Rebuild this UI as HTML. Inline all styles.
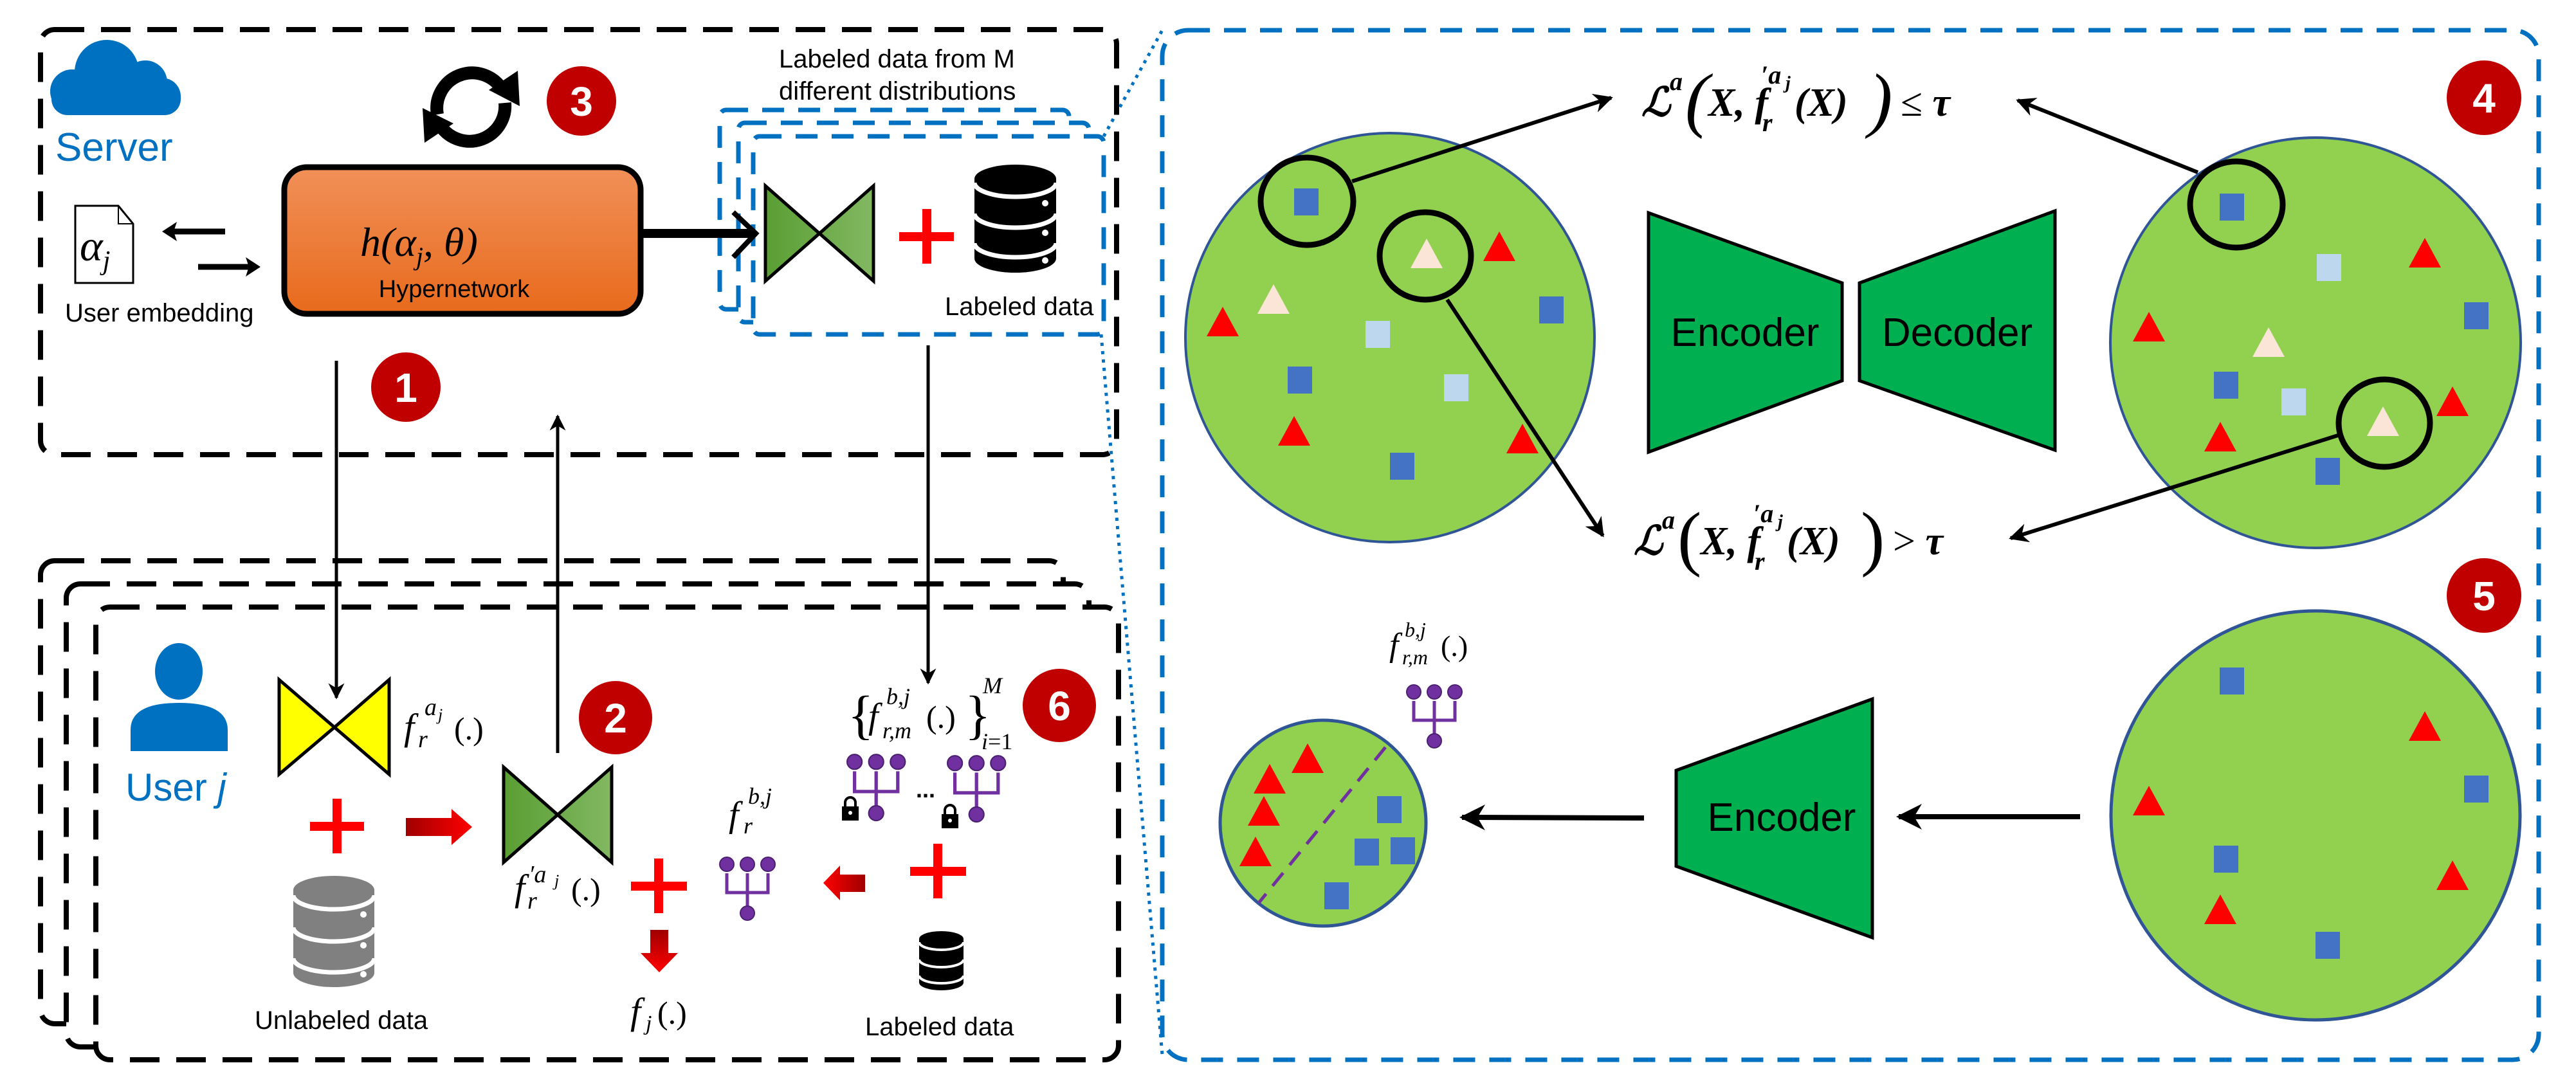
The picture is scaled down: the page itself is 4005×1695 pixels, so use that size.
<!DOCTYPE html>
<html><head><meta charset="utf-8"><style>
html,body{margin:0;padding:0;background:#fff}
svg{display:block}
text{font-family:"Liberation Sans",sans-serif}
.m{font-family:"Liberation Serif",serif;font-style:italic}
.mu{font-family:"Liberation Serif",serif}
.mb{font-family:"Liberation Serif",serif;font-style:italic;font-weight:bold}
.num{font-family:"Liberation Sans",sans-serif;font-weight:bold;fill:#fff;font-size:64px;text-anchor:middle}
</style></head><body>
<svg width="4005" height="1695" viewBox="0 0 4005 1695" xmlns="http://www.w3.org/2000/svg">
<defs>
<linearGradient id="og" x1="0" y1="0" x2="0" y2="1"><stop offset="0" stop-color="#f19058"/><stop offset="1" stop-color="#e86a1c"/></linearGradient>
<linearGradient id="gl" x1="0" y1="0" x2="1" y2="0"><stop offset="0" stop-color="#5a9e33"/><stop offset="1" stop-color="#82b862"/></linearGradient>
<linearGradient id="rh" x1="0" y1="0" x2="1" y2="0"><stop offset="0" stop-color="#a00000"/><stop offset="1" stop-color="#ff0000"/></linearGradient>
<linearGradient id="rhl" x1="1" y1="0" x2="0" y2="0"><stop offset="0" stop-color="#a00000"/><stop offset="1" stop-color="#ff0000"/></linearGradient>
<linearGradient id="rv" x1="0" y1="0" x2="0" y2="1"><stop offset="0" stop-color="#a00000"/><stop offset="1" stop-color="#ff0000"/></linearGradient>
<marker id="ah" viewBox="0 0 10 10" refX="9" refY="5" markerWidth="5" markerHeight="5" orient="auto-start-reverse"><path d="M0,0 L10,5 L0,10 L3,5 Z" fill="#000"/></marker>
<g id="net"><circle cx="12" cy="14" r="11" fill="#7030a0" stroke="#4b2070" stroke-width="2"/><circle cx="44" cy="14" r="11" fill="#7030a0" stroke="#4b2070" stroke-width="2"/><circle cx="76" cy="14" r="11" fill="#7030a0" stroke="#4b2070" stroke-width="2"/><path d="M12,28 V58 H76 V28 M44,28 V80" fill="none" stroke="#7030a0" stroke-width="5"/><circle cx="44" cy="90" r="11" fill="#7030a0" stroke="#4b2070" stroke-width="2"/></g>
<g id="lock"><path d="M5,14 V8 A8,8 0 0 1 21,8 V14" fill="none" stroke="#000" stroke-width="4"/><rect x="0" y="14" width="26" height="22" fill="#000"/><circle cx="13" cy="24" r="3" fill="#fff"/></g>
</defs>

<!-- dotted connectors -->
<path d="M1716,212 L1807,47" stroke="#0070c0" stroke-width="5" stroke-dasharray="5 8" fill="none"/>
<path d="M1712,520 L1807,1640" stroke="#0070c0" stroke-width="5" stroke-dasharray="5 8" fill="none"/>

<!-- server box -->
<rect x="63" y="46" width="1673" height="661" rx="22" fill="none" stroke="#000" stroke-width="8" stroke-dasharray="46 26"/>
<!-- user boxes -->
<rect x="63" y="872" width="1590" height="720" rx="22" fill="none" stroke="#000" stroke-width="8" stroke-dasharray="46 26"/>
<rect x="103" y="908" width="1590" height="720" rx="22" fill="#fff" stroke="#000" stroke-width="8" stroke-dasharray="46 26"/>
<rect x="149" y="944" width="1590" height="704" rx="22" fill="#fff" stroke="#000" stroke-width="8" stroke-dasharray="46 26"/>

<!-- cloud -->
<g fill="#0070c0"><rect x="80" y="128" width="201" height="51" rx="25"/><circle cx="166" cy="112" r="50"/><circle cx="226" cy="128" r="34"/><circle cx="112" cy="142" r="34"/><circle cx="252" cy="150" r="29"/></g>
<text x="86" y="250" font-size="62" fill="#0070c0">Server</text>

<!-- refresh icon -->
<g fill="none" stroke="#000" stroke-width="20">
<path d="M680,178 A55,55 0 0 1 780,138"/>
<path d="M785,160 A55,55 0 0 1 685,196"/>
</g>
<path d="M760,140 L805,110 L808,165 Z" fill="#000"/>
<path d="M705,192 L660,222 L657,168 Z" fill="#000"/>
<circle cx="904" cy="157" r="54" fill="#c00000"/><text class="num" x="904" y="180">3</text>

<text x="1211" y="105" font-size="40">Labeled data from M</text>
<text x="1211" y="155" font-size="40">different distributions</text>

<!-- blue dashed boxes -->
<rect x="1119" y="171" width="543" height="310" rx="10" fill="none" stroke="#0070c0" stroke-width="7" stroke-dasharray="34 22"/>
<rect x="1148" y="191" width="545" height="310" rx="10" fill="#fff" stroke="#0070c0" stroke-width="7" stroke-dasharray="34 22"/>
<rect x="1171" y="212" width="545" height="308" rx="10" fill="#fff" stroke="#0070c0" stroke-width="7" stroke-dasharray="34 22"/>

<!-- hypernetwork -->
<rect x="442" y="260" width="554" height="228" rx="35" fill="url(#og)" stroke="#000" stroke-width="9"/>
<text x="560" y="398" font-size="64" class="m">h(α<tspan font-size="40" dy="14">j</tspan><tspan dy="-14">, θ)</tspan></text>
<text x="706" y="462" font-size="38" text-anchor="middle">Hypernetwork</text>

<!-- doc -->
<path d="M117,320 L184,320 L207,348 L207,440 L117,440 Z" fill="#fff" stroke="#000" stroke-width="3"/>
<path d="M184,320 L184,348 L207,348" fill="none" stroke="#000" stroke-width="2"/>
<text x="124" y="405" font-size="68" class="m">α<tspan font-size="42" dy="14">j</tspan></text>
<line x1="350" y1="360" x2="262" y2="360" stroke="#000" stroke-width="9"/><path d="M252,360 L275,345 L270,360 L275,375 Z" fill="#000"/>
<line x1="308" y1="415" x2="395" y2="415" stroke="#000" stroke-width="9"/><path d="M405,415 L382,400 L387,415 L382,430 Z" fill="#000"/>
<text x="101" y="500" font-size="40">User embedding</text>

<!-- thick arrow -->
<line x1="999" y1="363" x2="1170" y2="363" stroke="#000" stroke-width="14"/>
<path d="M1140,330 L1175,363 L1140,400" fill="none" stroke="#000" stroke-width="8"/>

<!-- green bowtie server -->
<path d="M1190,289 L1274,363 L1358,289 L1358,437 L1274,363 L1190,437 Z" fill="url(#gl)" stroke="#000" stroke-width="5"/>
<rect x="1434" y="325" width="14" height="85" fill="#f00"/><rect x="1398" y="361" width="85" height="14" fill="#f00"/>
<!-- db black -->
<g><path d="M1515,278 L1515,402 A63.5,22 0 0 0 1642,402 L1642,278 A63.5,22 0 0 0 1515,278 Z" fill="#000"/>
<path d="M1515,284 A63.5,22 0 0 0 1642,284 M1515,332 A63.5,22 0 0 0 1642,332 M1515,378 A63.5,22 0 0 0 1642,378" fill="none" stroke="#fff" stroke-width="7"/>
<circle cx="1625" cy="316" r="5" fill="#fff"/><circle cx="1625" cy="362" r="5" fill="#fff"/><circle cx="1625" cy="405" r="5" fill="#fff"/></g>
<text x="1469" y="490" font-size="40">Labeled data</text>

<!-- vertical connectors -->
<line x1="523" y1="561" x2="523" y2="1085" stroke="#000" stroke-width="5" marker-end="url(#ah)"/>
<circle cx="631" cy="602" r="54" fill="#c00000"/><text class="num" x="631" y="625">1</text>
<line x1="867" y1="1171" x2="867" y2="647" stroke="#000" stroke-width="5" marker-end="url(#ah)"/>
<line x1="1443" y1="537" x2="1443" y2="1062" stroke="#000" stroke-width="5" marker-end="url(#ah)"/>

<!-- user -->
<ellipse cx="278" cy="1044" rx="37" ry="44" fill="#0070c0"/>
<path d="M203,1168 L203,1135 Q203,1093 278,1093 Q354,1093 354,1135 L354,1168 Z" fill="#0070c0"/>
<text x="195" y="1245" font-size="60" fill="#0070c0">User <tspan font-style="italic">j</tspan></text>

<path d="M434,1057 L520,1131 L605,1057 L605,1204 L520,1131 L434,1204 Z" fill="#ffff00" stroke="#000" stroke-width="5"/>
<text x="628" y="1150" font-size="58" class="m">f</text><text x="650" y="1162" font-size="38" class="m">r</text><text x="660" y="1112" font-size="38" class="m">a</text><text x="681" y="1120" font-size="26" class="m">j</text><text x="706" y="1150" font-size="50" class="mu">(.)</text>

<rect x="517" y="1242" width="14" height="85" fill="#f00"/><rect x="482" y="1278" width="84" height="14" fill="#f00"/>
<path d="M631,1272 L702,1272 L702,1258 L734,1286 L702,1314 L702,1300 L631,1300 Z" fill="url(#rh)"/>

<!-- gray db -->
<g><path d="M456,1384 L456,1513 A63,22 0 0 0 582,1513 L582,1384 A63,22 0 0 0 456,1384 Z" fill="#808080"/>
<path d="M456,1392 A63,22 0 0 0 582,1392 M456,1442 A63,22 0 0 0 582,1442 M456,1490 A63,22 0 0 0 582,1490" fill="none" stroke="#fff" stroke-width="7"/>
<circle cx="565" cy="1422" r="5" fill="#fff"/><circle cx="565" cy="1470" r="5" fill="#fff"/><circle cx="565" cy="1515" r="5" fill="#fff"/></g>
<text x="396" y="1600" font-size="40">Unlabeled data</text>

<path d="M783,1193 L867,1267 L951,1193 L951,1341 L867,1267 L783,1341 Z" fill="url(#gl)" stroke="#000" stroke-width="5"/>
<circle cx="957" cy="1116" r="57" fill="#c00000"/><text class="num" x="957" y="1139">2</text>
<text x="800" y="1400" font-size="58" class="m">f</text><text x="822" y="1372" font-size="38" class="m">′a</text><text x="862" y="1378" font-size="26" class="m">j</text><text x="820" y="1413" font-size="38" class="m">r</text><text x="888" y="1400" font-size="50" class="mu">(.)</text>

<rect x="1017" y="1335" width="14" height="85" fill="#f00"/><rect x="981" y="1371" width="87" height="14" fill="#f00"/>
<path d="M1011,1446 L1039,1446 L1039,1482 L1054,1482 L1025,1512 L996,1482 L1011,1482 Z" fill="url(#rv)"/>
<text x="980" y="1592" font-size="58" class="m">f</text><text x="1004" y="1602" font-size="34" class="m">j</text><text x="1022" y="1592" font-size="50" class="mu">(.)</text>

<use href="#net" x="1118" y="1330"/>
<text x="1133" y="1285" font-size="56" class="m">f</text><text x="1156" y="1296" font-size="36" class="m">r</text><text x="1163" y="1250" font-size="36" class="m">b,j</text>
<path d="M1280,1373 L1306,1346 L1306,1360 L1345,1360 L1345,1387 L1306,1387 L1306,1400 Z" fill="url(#rhl)"/>
<rect x="1451" y="1312" width="14" height="85" fill="#f00"/><rect x="1415" y="1348" width="87" height="14" fill="#f00"/>
<!-- small black db -->
<g><path d="M1429,1460 L1429,1528 A34.5,12 0 0 0 1498,1528 L1498,1460 A34.5,12 0 0 0 1429,1460 Z" fill="#000"/>
<path d="M1429,1465 A34.5,12 0 0 0 1498,1465 M1429,1492 A34.5,12 0 0 0 1498,1492 M1429,1517 A34.5,12 0 0 0 1498,1517" fill="none" stroke="#fff" stroke-width="4"/></g>
<text x="1345" y="1610" font-size="40">Labeled data</text>

<!-- set formula -->
<text x="1318" y="1140" font-size="84" class="mu">{</text>
<text x="1350" y="1132" font-size="56" class="m">f</text><text x="1378" y="1095" font-size="36" class="m">b,j</text><text x="1372" y="1148" font-size="36" class="m">r,m</text>
<text x="1440" y="1132" font-size="50" class="mu">(.)</text>
<text x="1500" y="1140" font-size="84" class="mu">}</text>
<text x="1528" y="1078" font-size="36" class="m">M</text><text x="1526" y="1165" font-size="36" class="m">i<tspan class="mu" font-style="normal">=1</tspan></text>
<circle cx="1647" cy="1097" r="57" fill="#c00000"/><text class="num" x="1647" y="1120">6</text>
<use href="#net" transform="translate(1316,1170) scale(1.05)"/>
<use href="#net" transform="translate(1472,1172) scale(1.05)"/>
<text x="1424" y="1240" font-size="36" font-weight="bold">...</text>
<use href="#lock" x="1309" y="1240"/><use href="#lock" x="1464" y="1252"/>

<!-- right panel -->
<rect x="1807" y="47" width="2140" height="1601" rx="40" fill="none" stroke="#0070c0" stroke-width="7" stroke-dasharray="34 22"/>

<!-- panel 4 -->
<circle cx="2161" cy="525" r="318" fill="#92d050" stroke="#2f5597" stroke-width="4"/>
<circle cx="3600" cy="533" r="319" fill="#92d050" stroke="#2f5597" stroke-width="4"/>
<g fill="#4472c4">
<rect x="2012" y="293" width="38" height="42"/><rect x="2393" y="461" width="38" height="42"/><rect x="2002" y="570" width="38" height="42"/><rect x="2161" y="704" width="38" height="42"/>
<rect x="3451" y="301" width="38" height="42"/><rect x="3831" y="470" width="38" height="42"/><rect x="3442" y="578" width="38" height="42"/><rect x="3600" y="712" width="38" height="42"/></g>
<g fill="#bdd7ee"><rect x="2123" y="499" width="38" height="42"/><rect x="2245" y="582" width="38" height="42"/><rect x="3602" y="395" width="38" height="42"/><rect x="3547" y="604" width="38" height="42"/></g>
<g fill="#f00">
<path d="M2331,360 L2356,406 L2306,406 Z"/><path d="M1901,477 L1926,523 L1876,523 Z"/><path d="M2012,647 L2037,693 L1987,693 Z"/><path d="M2367,659 L2392,705 L2342,705 Z"/>
<path d="M3770,370 L3795,416 L3745,416 Z"/><path d="M3341,485 L3366,531 L3316,531 Z"/><path d="M3813,601 L3838,647 L3788,647 Z"/><path d="M3452,656 L3477,702 L3427,702 Z"/></g>
<g fill="#fbe5d6"><path d="M2218,371 L2243,417 L2193,417 Z"/><path d="M1980,442 L2005,488 L1955,488 Z"/><path d="M3527,509 L3552,555 L3502,555 Z"/><path d="M3705,632 L3730,678 L3680,678 Z"/></g>
<g fill="none" stroke="#000" stroke-width="9">
<ellipse cx="2032" cy="313" rx="72" ry="68"/><ellipse cx="2216" cy="398" rx="71" ry="68"/>
<ellipse cx="3477" cy="318" rx="72" ry="67"/><ellipse cx="3707" cy="658" rx="71" ry="68"/></g>
<g stroke="#000" stroke-width="6" fill="none">
<line x1="2102" y1="282" x2="2505" y2="152" marker-end="url(#ah)"/>
<line x1="2250" y1="466" x2="2492" y2="833" marker-end="url(#ah)"/>
<line x1="3417" y1="268" x2="3137" y2="156" marker-end="url(#ah)"/>
<line x1="3635" y1="677" x2="3126" y2="837" marker-end="url(#ah)"/></g>

<path d="M2563,331 L2864,440 L2864,592 L2563,703 Z" fill="#00b050" stroke="#000" stroke-width="5"/>
<path d="M3195,328 L2891,440 L2891,592 L3195,700 Z" fill="#00b050" stroke="#000" stroke-width="5"/>
<text x="2713" y="538" font-size="62" text-anchor="middle">Encoder</text>
<text x="3043" y="538" font-size="62" text-anchor="middle">Decoder</text>
<circle cx="3862" cy="152" r="58" fill="#c00000"/><text class="num" x="3862" y="175">4</text>

<!-- formulas -->
<g class="mb">
<text x="2552" y="180" font-size="62" class="mb">ℒ</text><text x="2596" y="140" font-size="40" class="mb">a</text>
<text x="2620" y="192" font-size="112" class="mu" font-weight="normal">(</text>
<text x="2656" y="180" font-size="62" class="mb">X, f</text><text x="2738" y="130" font-size="40" class="mb">′a</text><text x="2776" y="138" font-size="28" class="mb">j</text><text x="2740" y="204" font-size="40" class="mb">r</text>
<text x="2790" y="180" font-size="62" class="mb">(X)</text>
<text x="2905" y="192" font-size="112" class="mu" font-weight="normal">)</text>
<text x="2955" y="180" font-size="62" class="mb"><tspan font-style="normal" font-weight="normal">≤</tspan> τ</text>
</g>
<g>
<text x="2540" y="862" font-size="62" class="mb">ℒ</text><text x="2584" y="822" font-size="40" class="mb">a</text>
<text x="2608" y="874" font-size="112" class="mu">(</text>
<text x="2644" y="862" font-size="62" class="mb">X, f</text><text x="2726" y="812" font-size="40" class="mb">′a</text><text x="2764" y="820" font-size="28" class="mb">j</text><text x="2728" y="886" font-size="40" class="mb">r</text>
<text x="2778" y="862" font-size="62" class="mb">(X)</text>
<text x="2893" y="874" font-size="112" class="mu">)</text>
<text x="2943" y="862" font-size="62" class="mb"><tspan font-style="normal" font-weight="normal">&gt;</tspan> τ</text>
</g>

<!-- panel 5 -->
<circle cx="3862" cy="926" r="58" fill="#c00000"/><text class="num" x="3862" y="949">5</text>
<circle cx="3600" cy="1268" r="318" fill="#92d050" stroke="#2f5597" stroke-width="5"/>
<g fill="#4472c4"><rect x="3451" y="1038" width="38" height="42"/><rect x="3831" y="1206" width="38" height="42"/><rect x="3442" y="1315" width="38" height="42"/><rect x="3600" y="1449" width="38" height="42"/></g>
<g fill="#f00"><path d="M3770,1106 L3795,1152 L3745,1152 Z"/><path d="M3341,1222 L3366,1268 L3316,1268 Z"/><path d="M3813,1338 L3838,1384 L3788,1384 Z"/><path d="M3452,1391 L3477,1437 L3427,1437 Z"/></g>
<path d="M2911,1087 L2606,1198 L2606,1347 L2911,1458 Z" fill="#00b050" stroke="#000" stroke-width="5"/>
<text x="2770" y="1292" font-size="62" text-anchor="middle">Encoder</text>
<line x1="3234" y1="1270" x2="2952" y2="1270" stroke="#000" stroke-width="8" marker-end="url(#ah)"/>
<line x1="2556" y1="1272" x2="2273" y2="1271" stroke="#000" stroke-width="8" marker-end="url(#ah)"/>

<ellipse cx="2057" cy="1280" rx="160" ry="160" fill="#92d050" stroke="#2f5597" stroke-width="5"/>
<g fill="#f00"><path d="M2033,1156 L2058,1202 L2008,1202 Z"/><path d="M1974,1188 L1999,1234 L1949,1234 Z"/><path d="M1965,1238 L1990,1284 L1940,1284 Z"/><path d="M1952,1301 L1977,1347 L1927,1347 Z"/></g>
<g fill="#4472c4"><rect x="2141" y="1238" width="38" height="42"/><rect x="2106" y="1304" width="38" height="42"/><rect x="2162" y="1302" width="38" height="42"/><rect x="2059" y="1372" width="38" height="42"/></g>
<line x1="2154" y1="1162" x2="1957" y2="1404" stroke="#7030a0" stroke-width="5" stroke-dasharray="26 16"/>
<use href="#net" x="2186" y="1062"/>
<text x="2160" y="1020" font-size="52" class="m">f</text><text x="2184" y="990" font-size="32" class="m">b,j</text><text x="2180" y="1033" font-size="32" class="m">r,m</text><text x="2240" y="1020" font-size="46" class="mu">(.)</text>
</svg>
</body></html>
